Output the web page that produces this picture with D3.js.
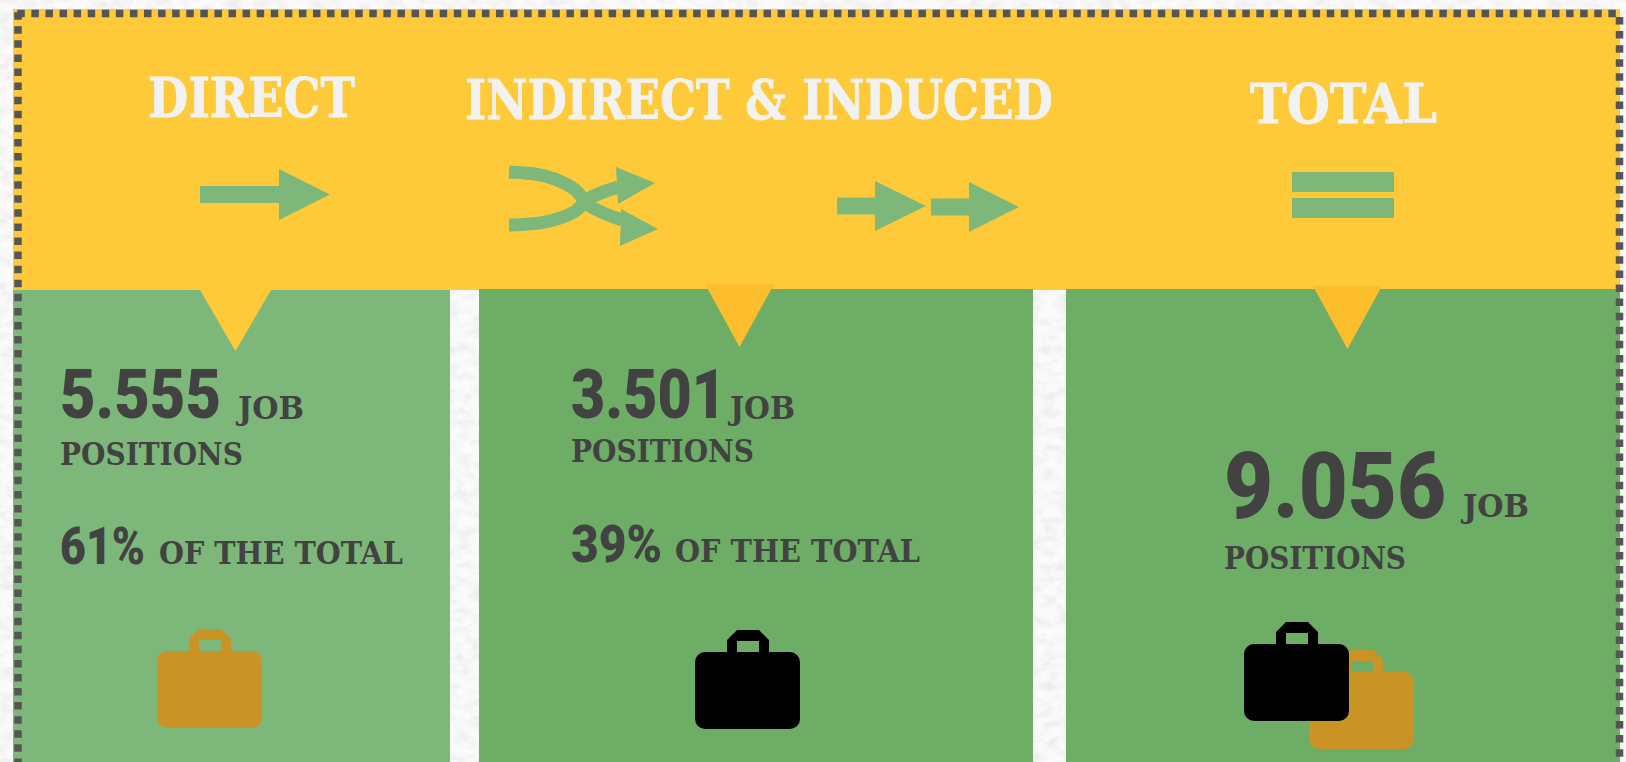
<!DOCTYPE html>
<html>
<head>
<meta charset="utf-8">
<script src="https://cdn.jsdelivr.net/npm/d3@7"></script>
<style>
    html, body { margin: 0; padding: 0; background: #f5f5f5; overflow: hidden; }
    svg { display: block; }
</style>
</head>
<body>
<div id="chart"></div>
<script>
// values
const headings = ["DIRECT", "INDIRECT & INDUCED", "TOTAL"];
const jobCounts = [5555, 3501, 9056];
const shares = [61, 39];
const jobWord = "JOB";
const positionsWord = "POSITIONS";
const shareWord = "OF THE TOTAL";

const width = 1626;
const height = 762;

const yellow = "#ffca3a";
const darkYellow = "#fdbe2d";
const lightGreen = "#7db87a";
const green = "#6dad66";
const ochre = "#c99425";
const darkText = "#424242";
const headingText = "#f2f2f2";

// layout of the three columns, same order as the arrays above
const columns = [
    { x0: 13, x1: 450, top: 290, fill: lightGreen, tri: [200, 271, 290, 351], triFill: yellow },
    { x0: 479, x1: 1033, top: 289, fill: green, tri: [705, 774, 284, 347], triFill: darkYellow },
    { x0: 1066, x1: 1620, top: 289, fill: green, tri: [1313, 1382, 286, 349], triFill: darkYellow }
];

const headingLayout = [
    { x: 148, w: 207, y: 117 },
    { x: 465, w: 588, y: 119 },
    { x: 1250, w: 187, y: 123 }
];

const countLayout = [
    { x: 60, w: 161, y: 418, size: 69, jobX: 238, jobW: 66, jobY: 419, posW: 183, posY: 465 },
    { x: 571, w: 155, y: 418, size: 69, jobX: 730, jobW: 65, jobY: 419, posW: 183, posY: 462 },
    { x: 1224, w: 222, y: 518, size: 93, jobX: 1463, jobW: 66, jobY: 517, posW: 182, posY: 569 }
];

const shareLayout = [
    { x: 60, w: 85, y: 564, wordX: 159, wordW: 244 },
    { x: 571, w: 91, y: 562, wordX: 675, wordW: 245 }
];

const bagLayout = [
    { dx: 0, dy: 0, fill: ochre },
    { dx: 538, dy: 1, fill: "#000" },
    { dx: 1152, dy: 21, fill: ochre },
    { dx: 1087, dy: -7, fill: "#000" }
];

// the dots of the frame, each side has its own start
const frameSides = [
    [[17.3, 13.5], [1620, 13.5]],
    [[18, 12.2], [18, 762]],
    [[1619.5, 17], [1619.5, 762]]
];

const thousands = d3.formatLocale({ decimal: ",", thousands: ".", grouping: [3], currency: ["", ""] }).format(",d");

const svg = d3.select("#chart")
    .append("svg")
    .attr("width", width)
    .attr("height", height);

// paper texture behind everything
const defs = svg.append("defs");
const paper = defs.append("filter")
    .attr("id", "paper")
    .attr("x", 0).attr("y", 0).attr("width", "100%").attr("height", "100%");
paper.append("feTurbulence")
    .attr("type", "fractalNoise")
    .attr("baseFrequency", "0.07 0.11")
    .attr("numOctaves", 4)
    .attr("seed", 7);
paper.append("feColorMatrix")
    .attr("type", "matrix")
    .attr("values", "0 0 0 0 0.62  0 0 0 0 0.62  0 0 0 0 0.62  0.7 0 0 0 -0.27");

svg.append("rect").attr("width", width).attr("height", height).attr("fill", "#fbfbfb");
svg.append("rect").attr("width", width).attr("height", height).attr("filter", "url(#paper)");

// yellow header band
svg.append("rect")
    .attr("x", 13)
    .attr("y", 9)
    .attr("width", 1607)
    .attr("height", 281)
    .attr("fill", yellow);

// green columns
svg.append("g")
    .selectAll("rect")
    .data(columns)
    .enter().append("rect")
    .attr("x", d => d.x0)
    .attr("y", d => d.top)
    .attr("width", d => d.x1 - d.x0)
    .attr("height", d => height - d.top)
    .attr("fill", d => d.fill);

// little triangles under the band
svg.append("g")
    .selectAll("path")
    .data(columns)
    .enter().append("path")
    .attr("fill", d => d.triFill)
    .attr("d", d => {
        const [x0, x1, y0, y1] = d.tri;
        return d3.line()([[x0, y0], [x1, y0], [(x0 + x1) / 2, y1]]) + "Z";
    });

// dotted frame
svg.append("g")
    .selectAll("path")
    .data(frameSides)
    .enter().append("path")
    .attr("d", d3.line())
    .attr("fill", "none")
    .attr("stroke", "#555")
    .attr("stroke-width", 7.5)
    .attr("stroke-dasharray", "7.5 6.58");

const slab = "'DejaVu Serif', 'Liberation Serif', serif";
const sans = "Roboto, 'Liberation Sans', sans-serif";

// squeeze a text to the width it has in the picture
function fitted(label, x, y, w, font, size, fill, weight) {
    const text = svg.append("text")
        .attr("font-family", font)
        .attr("font-weight", weight)
        .attr("font-size", size)
        .attr("fill", fill)
        .text(label);
    const natural = text.node().getComputedTextLength();
    text.attr("transform", `translate(${x},${y}) scale(${w / natural},1)`);
    return text;
}

// headings
headings.forEach((label, i) => {
    const p = headingLayout[i];
    fitted(label, p.x, p.y, p.w, slab, 55, headingText, 700)
        .attr("stroke", headingText)
        .attr("stroke-width", 0.8);
});

// job counts
jobCounts.forEach((value, i) => {
    const p = countLayout[i];
    fitted(thousands(value), p.x, p.y, p.w, sans, p.size, darkText, 900);
    fitted(jobWord, p.jobX, p.jobY, p.jobW, slab, 31, darkText, 700);
    fitted(positionsWord, p.x, p.posY, p.posW, slab, 31, darkText, 700);
});

// shares of the total
shares.forEach((value, i) => {
    const p = shareLayout[i];
    fitted(value + "%", p.x, p.y, p.w, sans, 51, darkText, 900);
    fitted(shareWord, p.wordX, p.y, p.wordW, slab, 31, darkText, 700);
});

// arrows in the header
function arrowPath(x0, xb, xt, cy, shaft, head) {
    return d3.line()([
        [x0, cy - shaft / 2], [xb, cy - shaft / 2], [xb, cy - head / 2], [xt, cy],
        [xb, cy + head / 2], [xb, cy + shaft / 2], [x0, cy + shaft / 2]
    ]) + "Z";
}

const straightArrows = [
    [200, 279, 330, 194.5, 17, 51],
    [837, 875, 926, 206, 17, 50],
    [931, 969, 1019, 207, 17, 50]
];

svg.append("g")
    .selectAll("path")
    .data(straightArrows)
    .enter().append("path")
    .attr("fill", lightGreen)
    .attr("d", d => arrowPath(...d));

// crossing arrows
const crossLines = [
    [[509, 172], [545, 176], [574, 189], [590, 206], [622, 220]],
    [[509, 225], [545, 222], [574, 212], [590, 198], [618, 187]]
];
const crossHeads = [
    [[616, 167], [655, 183], [618, 204]],
    [[621, 209], [658, 229], [620, 246]]
];
const curve = d3.line().curve(d3.curveCatmullRom);

svg.append("g")
    .selectAll("path")
    .data(crossLines)
    .enter().append("path")
    .attr("fill", "none")
    .attr("stroke", lightGreen)
    .attr("stroke-width", 13)
    .attr("d", curve);

svg.append("g")
    .selectAll("path")
    .data(crossHeads)
    .enter().append("path")
    .attr("fill", lightGreen)
    .attr("d", d => d3.line()(d) + "Z");

// equals sign
svg.append("g")
    .selectAll("rect")
    .data([172, 198])
    .enter().append("rect")
    .attr("x", 1292)
    .attr("y", d => d)
    .attr("width", 102)
    .attr("height", 20)
    .attr("fill", lightGreen);

// briefcase icons, drawn from one outline and moved around
const bagOutline = "M199 629H221L231 639V651H252A10 10 0 0 1 262 661V718A10 10 0 0 1 252 728H167A10 10 0 0 1 157 718V661A10 10 0 0 1 167 651H189V639Z" +
    "M199 640V651H221V640Z";

svg.append("g")
    .selectAll("path")
    .data(bagLayout)
    .enter().append("path")
    .attr("d", bagOutline)
    .attr("fill-rule", "evenodd")
    .attr("fill", d => d.fill)
    .attr("transform", d => `translate(${d.dx},${d.dy})`);
</script>
</body>
</html>
